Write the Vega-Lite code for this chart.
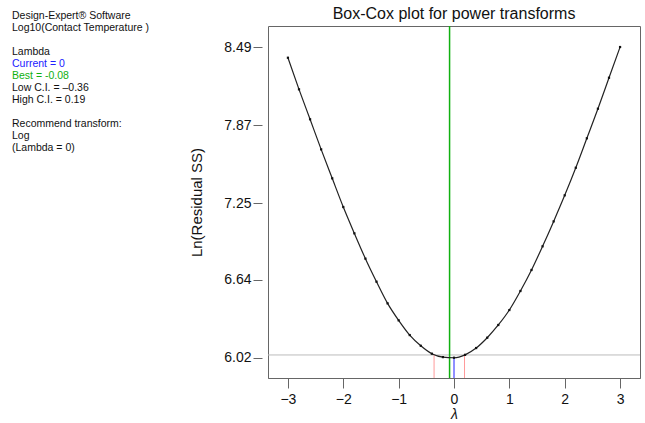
{
  "$schema": "https://vega.github.io/schema/vega-lite/v6.json",
  "background": "white",
  "padding": 5,
  "spacing": 0,
  "config": {
    "font": "Liberation Sans",
    "view": {"stroke": "#666666", "strokeWidth": 1},
    "axis": {"grid": false, "labelFont": "Liberation Sans", "titleFont": "Liberation Sans", "labelColor": "#111111", "titleColor": "#111111", "tickColor": "#666666", "domainColor": "#666666"}
  },
  "datasets": {
    "curve": [
      {"lambda": -3.0, "ss": 8.405}, {"lambda": -2.8, "ss": 8.154}, {"lambda": -2.6, "ss": 7.916},
      {"lambda": -2.4, "ss": 7.677}, {"lambda": -2.2, "ss": 7.447}, {"lambda": -2.0, "ss": 7.219},
      {"lambda": -1.8, "ss": 7.010}, {"lambda": -1.6, "ss": 6.809}, {"lambda": -1.4, "ss": 6.626},
      {"lambda": -1.2, "ss": 6.454}, {"lambda": -1.0, "ss": 6.319}, {"lambda": -0.8, "ss": 6.202},
      {"lambda": -0.6, "ss": 6.117}, {"lambda": -0.4, "ss": 6.054}, {"lambda": -0.2, "ss": 6.027},
      {"lambda": 0.0, "ss": 6.022}, {"lambda": 0.2, "ss": 6.045}, {"lambda": 0.4, "ss": 6.099},
      {"lambda": 0.6, "ss": 6.181}, {"lambda": 0.8, "ss": 6.282}, {"lambda": 1.0, "ss": 6.401},
      {"lambda": 1.2, "ss": 6.552}, {"lambda": 1.4, "ss": 6.719}, {"lambda": 1.6, "ss": 6.907},
      {"lambda": 1.8, "ss": 7.105}, {"lambda": 2.0, "ss": 7.312}, {"lambda": 2.2, "ss": 7.531},
      {"lambda": 2.4, "ss": 7.765}, {"lambda": 2.6, "ss": 8.000}, {"lambda": 2.8, "ss": 8.246},
      {"lambda": 3.0, "ss": 8.490}
    ],
    "ci": [
      {"lambda": -0.36, "ss": 6.044, "kind": "Low C.I."},
      {"lambda": 0.19, "ss": 6.044, "kind": "High C.I."}
    ],
    "current": [{"lambda": 0, "ss": 6.022}],
    "best": [{"lambda": -0.08}],
    "threshold": [{"ss": 6.044}],
    "notes": [
      {"line": 0, "text": "Design-Expert® Software", "role": "info"},
      {"line": 1, "text": "Log10(Contact Temperature )", "role": "info"},
      {"line": 3, "text": "Lambda", "role": "info"},
      {"line": 4, "text": "Current = 0", "role": "current"},
      {"line": 5, "text": "Best = -0.08", "role": "best"},
      {"line": 6, "text": "Low C.I. = –0.36", "role": "info"},
      {"line": 7, "text": "High C.I. = 0.19", "role": "info"},
      {"line": 9, "text": "Recommend transform:", "role": "info"},
      {"line": 10, "text": "Log", "role": "info"},
      {"line": 11, "text": "\u00a0(Lambda = 0)", "role": "info"}
    ]
  },
  "hconcat": [
    {
      "width": 184,
      "height": 144,
      "view": {"stroke": null},
      "data": {"name": "notes"},
      "mark": {"type": "text", "align": "left", "baseline": "middle", "fontSize": 10.5, "dx": 7},
      "encoding": {
        "x": {"datum": 0, "type": "quantitative", "scale": {"domain": [0, 1]}, "axis": null},
        "y": {"field": "line", "type": "quantitative", "scale": {"domain": [0.8333, 12.8333], "reverse": true, "nice": false, "zero": false}, "axis": null},
        "text": {"field": "text"},
        "color": {"field": "role", "type": "nominal", "scale": {"domain": ["info", "current", "best"], "range": ["#111111", "#2020ff", "#10b010"]}, "legend": null}
      }
    },
    {
      "width": 372,
      "height": 352,
      "title": {"text": "Box-Cox plot for power transforms", "fontSize": 16, "fontWeight": "normal", "color": "#111111", "offset": 3},
      "layer": [
        {
          "data": {"name": "threshold"},
          "mark": {"type": "rule", "color": "#bbbbbb", "strokeWidth": 1},
          "encoding": {
            "y": {"field": "ss", "type": "quantitative", "scale": {"domain": [5.861, 8.657], "nice": false, "zero": false}, "title": "Ln(Residual SS)"}
          }
        },
        {
          "data": {"name": "ci"},
          "mark": {"type": "rule", "color": "#ff9a9a", "strokeWidth": 1},
          "encoding": {
            "x": {"field": "lambda", "type": "quantitative", "title": "λ"},
            "y": {"field": "ss", "type": "quantitative", "title": "Ln(Residual SS)"},
            "y2": {"datum": 5.861}
          }
        },
        {
          "data": {"name": "current"},
          "mark": {"type": "rule", "color": "#2020ff", "strokeWidth": 1},
          "encoding": {
            "x": {"field": "lambda", "type": "quantitative", "title": "λ"},
            "y": {"field": "ss", "type": "quantitative", "title": "Ln(Residual SS)"},
            "y2": {"datum": 5.861}
          }
        },
        {
          "data": {"name": "best"},
          "mark": {"type": "rule", "color": "#10b010", "strokeWidth": 1.5},
          "encoding": {
            "x": {"field": "lambda", "type": "quantitative", "title": "λ"}
          }
        },
        {
          "data": {"name": "curve"},
          "mark": {"type": "line", "color": "#222222", "strokeWidth": 1.2, "interpolate": "monotone"},
          "encoding": {
            "x": {
              "field": "lambda", "type": "quantitative", "title": "λ",
              "scale": {"domain": [-3.36, 3.36], "nice": false, "zero": false},
              "axis": {"values": [-3, -2, -1, 0, 1, 2, 3], "format": "d", "labelFontSize": 14, "tickSize": 10, "labelPadding": 4, "titleFontSize": 14, "titleFontStyle": "italic", "titleFontWeight": "normal", "titlePadding": 1, "domain": true}
            },
            "y": {
              "field": "ss", "type": "quantitative", "title": "Ln(Residual SS)",
              "axis": {"values": [6.02, 6.64, 7.25, 7.87, 8.49], "format": ".2f", "labelFontSize": 14, "tickSize": 9, "labelPadding": 2, "offset": 6, "domain": false, "titleFontSize": 15, "titleFontWeight": "normal", "titlePadding": 19}
            }
          }
        },
        {
          "data": {"name": "curve"},
          "mark": {"type": "point", "shape": "square", "filled": true, "size": 5, "color": "#111111", "opacity": 1},
          "encoding": {
            "x": {"field": "lambda", "type": "quantitative", "title": "λ"},
            "y": {"field": "ss", "type": "quantitative", "title": "Ln(Residual SS)"}
          }
        }
      ]
    }
  ]
}
